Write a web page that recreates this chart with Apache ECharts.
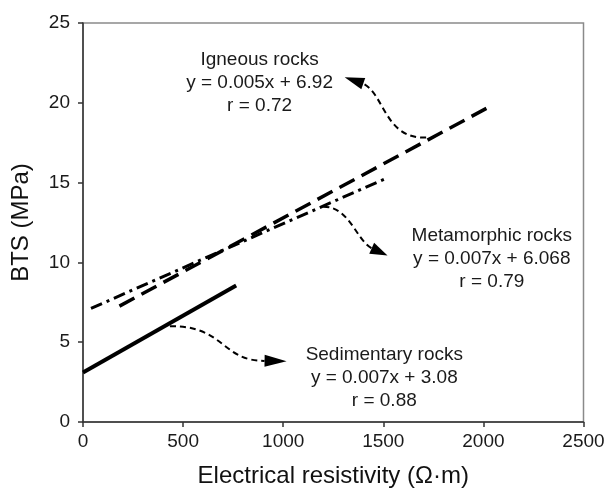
<!DOCTYPE html>
<html>
<head>
<meta charset="utf-8">
<script src="https://cdn.jsdelivr.net/npm/echarts@6/dist/echarts.min.js"></script>
<style>
  html, body { margin: 0; padding: 0; background: #ffffff; }
  #chart { width: 608px; height: 493px; }
</style>
</head>
<body>
<div id="chart"></div>
<script>
// Axis ranges and tick labels
const xTicks = [0, 500, 1000, 1500, 2000, 2500];
const yTicks = [0, 5, 10, 15, 20, 25];

// Fitted regression lines, [resistivity, BTS] end points
const sedimentaryLine = [[0, 3.1], [765, 8.55]];
const igneousLine = [[182, 7.26], [2015, 19.65]];
const metamorphicLine = [[40, 7.12], [1520, 15.3]];

// Equation call-outs
const igneousText = ['Igneous rocks', 'y = 0.005x + 6.92', 'r = 0.72'];
const metamorphicText = ['Metamorphic rocks', 'y = 0.007x + 6.068', 'r = 0.79'];
const sedimentaryText = ['Sedimentary rocks', 'y = 0.007x + 3.08', 'r = 0.88'];

// Call-out anchors (text centre-top) in data units
const igneousTextAt = [882, 23.4];
const metamorphicTextAt = [2042, 12.4];
const sedimentaryTextAt = [1505, 4.94];

// Curved pointer arrows: start, control 1, control 2, head base, head tip (data units)
const igneousArrow = [[1714, 17.83], [1508, 17.7], [1508, 20.5], [1400, 21.2], [1307, 21.6]];
const metamorphicArrow = [[1200, 13.49], [1332, 13.5], [1362, 11.44], [1442, 10.88], [1521, 10.44]];
const sedimentaryArrow = [[434, 6.0], [707, 6.06], [692, 3.81], [907, 3.83], [1017, 3.81]];

const FONT = '"Liberation Sans", Arial, sans-serif';
const chart = echarts.init(document.getElementById('chart'), null, { renderer: 'canvas' });

chart.setOption({
  animation: false,
  backgroundColor: '#ffffff',
  grid: {
    left: 83, right: 24.5, top: 23, bottom: 70,
    show: true, borderColor: '#8a8a8a', borderWidth: 1.5, backgroundColor: 'transparent'
  },
  xAxis: {
    type: 'value',
    min: xTicks[0], max: xTicks[xTicks.length - 1], interval: 500,
    name: 'Electrical resistivity (Ω·m)',
    nameLocation: 'middle', nameGap: 42,
    nameTextStyle: { fontFamily: FONT, fontSize: 24, color: '#111' },
    axisLine: { show: true, onZero: false, lineStyle: { color: '#333', width: 1.5 } },
    axisTick: { show: true, inside: false, length: 5, lineStyle: { color: '#333', width: 1.5 } },
    axisLabel: {
      fontFamily: FONT, fontSize: 19, color: '#1a1a1a', margin: 10,
      formatter: v => String(v)
    },
    splitLine: { show: false }
  },
  yAxis: {
    type: 'value',
    min: yTicks[0], max: yTicks[yTicks.length - 1], interval: 5,
    name: 'BTS (MPa)',
    nameLocation: 'middle', nameGap: 50,
    nameTextStyle: { fontFamily: FONT, fontSize: 24, color: '#111' },
    axisLine: { show: true, lineStyle: { color: '#333', width: 1.5 } },
    axisTick: { show: true, inside: false, length: 5, lineStyle: { color: '#333', width: 1.5 } },
    axisLabel: {
      fontFamily: FONT, fontSize: 19, color: '#1a1a1a', margin: 13,
      formatter: v => String(v)
    },
    splitLine: { show: false }
  },
  series: [
    {
      name: 'Sedimentary rocks', type: 'line', data: sedimentaryLine,
      symbol: 'none', silent: true,
      lineStyle: { color: '#000', width: 4, type: 'solid', cap: 'butt' }
    },
    {
      name: 'Igneous rocks', type: 'line', data: igneousLine,
      symbol: 'none', silent: true,
      lineStyle: { color: '#000', width: 3.5, type: [17, 8], cap: 'butt' }
    },
    {
      name: 'Metamorphic rocks', type: 'line', data: metamorphicLine,
      symbol: 'none', silent: true,
      lineStyle: { color: '#000', width: 3, type: [12, 5, 3, 5], cap: 'butt' }
    }
  ]
});

function px(p) { return chart.convertToPixel({ gridIndex: 0 }, p); }

function calloutText(lines, at) {
  const p = px(at);
  return {
    type: 'text', x: p[0], y: p[1], silent: true,
    style: {
      text: lines.join('\n'), font: '19px ' + FONT, fill: '#1a1a1a',
      align: 'center', verticalAlign: 'top', lineHeight: 23
    }
  };
}

function arrow(pts) {
  const [s, c1, c2, b, t] = pts.map(px);
  const dx = t[0] - b[0], dy = t[1] - b[1];
  const len = Math.hypot(dx, dy) || 1;
  const nx = -dy / len, ny = dx / len, hw = 6;
  return [
    {
      type: 'bezierCurve', silent: true,
      shape: { x1: s[0], y1: s[1], cpx1: c1[0], cpy1: c1[1], cpx2: c2[0], cpy2: c2[1], x2: b[0], y2: b[1] },
      style: { stroke: '#000', lineWidth: 2, lineDash: [6, 4], fill: null }
    },
    {
      type: 'polygon', silent: true,
      shape: { points: [[t[0], t[1]], [b[0] + nx * hw, b[1] + ny * hw], [b[0] - nx * hw, b[1] - ny * hw]] },
      style: { fill: '#000', stroke: null }
    }
  ];
}

chart.setOption({
  graphic: [].concat(
    calloutText(igneousText, igneousTextAt),
    calloutText(metamorphicText, metamorphicTextAt),
    calloutText(sedimentaryText, sedimentaryTextAt),
    arrow(igneousArrow),
    arrow(metamorphicArrow),
    arrow(sedimentaryArrow)
  )
});
</script>
</body>
</html>
